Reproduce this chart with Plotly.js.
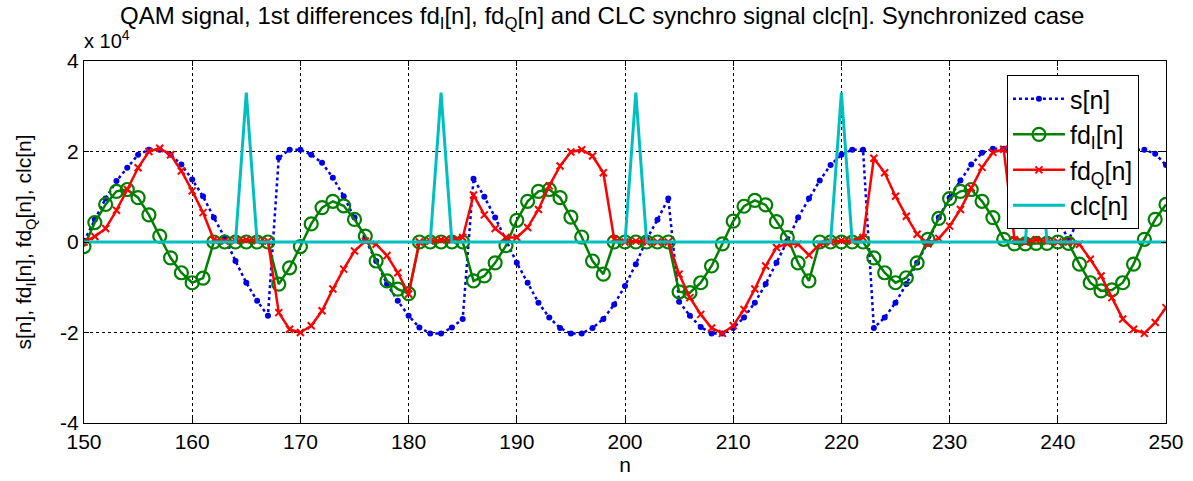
<!DOCTYPE html>
<html>
<head>
<meta charset="utf-8">
<script src="https://cdn.plot.ly/plotly-3.0.1.min.js"></script>
<style>
html,body{margin:0;padding:0;background:#fff;}
#chart{width:1193px;height:481px;}
</style>
</head>
<body>
<div id="chart"></div>
<script>
// sample index n
const n = [150,151,152,153,154,155,156,157,158,159,
           160,161,162,163,164,165,166,167,168,169,
           170,171,172,173,174,175,176,177,178,179,
           180,181,182,183,184,185,186,187,188,189,
           190,191,192,193,194,195,196,197,198,199,
           200,201,202,203,204,205,206,207,208,209,
           210,211,212,213,214,215,216,217,218,219,
           220,221,222,223,224,225,226,227,228,229,
           230,231,232,233,234,235,236,237,238,239,
           240,241,242,243,244,245,246,247,248,249,
           250];

// values in units of 10^4
const s = [0.02,0.5,0.96,1.35,1.64,1.93,2.04,2.04,1.93,1.71,
           1.38,1.01,0.54,0.1,-0.42,-0.9,-1.3,-1.63,1.86,2.04,
           2.04,1.93,1.75,1.42,1.01,0.54,0.05,-0.42,-0.93,-1.3,
           -1.63,-1.89,-2.02,-2.02,-1.89,-1.7,1.4,1.0,0.54,0.05,
           -0.46,-0.9,-1.34,-1.67,-1.9,-2.02,-2.02,-1.9,-1.7,-1.38,
           -0.97,-0.49,0.06,0.49,0.96,-1.32,-1.63,-1.88,-2.02,-2.02,
           -1.9,-1.67,-1.34,-0.93,-0.46,0.02,0.54,0.96,1.36,1.7,
           1.93,2.04,2.04,-1.9,-1.67,-1.34,-0.93,-0.46,0.0,0.54,
           0.98,1.36,1.71,1.97,2.06,2.06,1.93,1.7,1.36,0.96,
           0.5,0.05,0.53,0.96,1.36,1.7,1.93,2.04,2.04,1.95,
           1.7];

const fdI = [-0.1,0.43,0.83,1.12,1.16,0.98,0.6,0.13,-0.35,-0.68,
             -0.9,-0.8,0,0,0,0,0,0,-0.93,-0.57,
             -0.1,0.4,0.76,0.9,0.8,0.5,0.13,-0.42,-0.86,-1.04,
             -1.14,0,0,0,0,0,-0.86,-0.75,-0.46,-0.08,
             0.48,0.9,1.12,1.16,0.98,0.55,0.11,-0.42,-0.71,0,
             0,0,0,0,0,-1.1,-1.12,-0.9,-0.53,-0.04,
             0.46,0.79,0.92,0.82,0.45,0.1,-0.46,-0.86,0,0,
             0,0,0,-0.35,-0.68,-0.9,-0.79,-0.46,0.06,0.52,
             0.96,1.12,1.16,0.9,0.54,0.06,-0.04,-0.04,-0.03,-0.03,
             0,-0.03,-0.49,-0.9,-1.08,-1.06,-0.9,-0.49,0.06,0.5,
             0.83];

const fdQ = [0,0.12,0.3,0.7,1.16,1.64,2.0,2.07,1.93,1.57,
             1.13,0.65,0.05,0.02,0.03,0.05,0.03,0.02,-1.56,-1.93,
             -2.0,-1.85,-1.52,-1.04,-0.6,-0.2,0.02,-0.05,-0.3,-0.68,
             -1.15,0,0.02,0.05,0.05,0.1,1.04,0.6,0.3,0.1,
             0.1,0.32,0.72,1.24,1.68,1.99,2.04,1.9,1.53,0.06,
             0,0.02,0,0,0,-0.71,-1.23,-1.6,-1.9,-2.02,
             -1.85,-1.49,-1.04,-0.53,-0.12,-0.04,-0.05,-0.29,-0.05,0,
             0.03,0.02,0.1,1.85,1.53,1.01,0.57,0.17,-0.04,0.08,
             0.35,0.72,1.2,1.65,1.98,2.05,0.05,0,0.05,0.02,
             0,0,-0.05,-0.38,-0.75,-1.23,-1.7,-1.93,-2.02,-1.78,
             -1.45];

const clc = [0,0,0,0,0,0,0,0,0,0,
             0,0,0,0,0,3.3,0,0,0,0,
             0,0,0,0,0,0,0,0,0,0,
             0,0,0,3.3,0,0,0,0,0,0,
             0,0,0,0,0,0,0,0,0,0,
             0,3.3,0,0,0,0,0,0,0,0,
             0,0,0,0,0,0,0,0,0,0,
             3.3,0,0,0,0,0,0,0,0,0,
             0,0,0,0,0,0,0,0,3.3,0,
             0,0,0,0,0,0,0,0,0,0,
             0];

const xTicks = [150,160,170,180,190,200,210,220,230,240,250];
const xTickText = ['150','160','170','180','190','200','210','220','230','240','250'];
const yTicks = [-4,-2,0,2,4];
const yTickText = ['-4','-2','0','2','4'];

const names = ['s[n]','fd<sub>I</sub>[n]','fd<sub>Q</sub>[n]','clc[n]'];

const traces = [
  {x:n, y:s, name:names[0], type:'scatter', mode:'lines+markers', legendgroup:'a',
   line:{color:'rgb(0,0,230)', width:2.5, dash:'dot'},
   marker:{color:'rgb(0,0,230)', size:6, symbol:'circle'}},
  {x:n, y:fdI, name:names[1], type:'scatter', mode:'lines+markers', legendgroup:'b',
   line:{color:'rgb(0,128,0)', width:2.5},
   marker:{color:'rgb(0,128,0)', size:13, symbol:'circle-open', line:{width:2.2, color:'rgb(0,128,0)'}}},
  {x:n, y:fdQ, name:names[2], type:'scatter', mode:'lines+markers', legendgroup:'c',
   line:{color:'rgb(255,0,0)', width:2.5},
   marker:{color:'rgb(255,0,0)', size:7, symbol:'x-thin-open', line:{width:2, color:'rgb(255,0,0)'}}},
  {x:n, y:clc, name:names[3], type:'scatter', mode:'lines', legendgroup:'d',
   line:{color:'rgb(0,191,191)', width:3}}
];

const FAM = 'Liberation Sans, Arial, sans-serif';
const axFont = {family:FAM, size:21, color:'#000'};

const layout = {
  width:1193, height:481,
  margin:{l:84, r:27, t:61, b:58},
  paper_bgcolor:'#fff', plot_bgcolor:'#fff',
  font:axFont,
  showlegend:true,
  title:{text:'QAM signal, 1st differences fd<sub>I</sub>[n], fd<sub>Q</sub>[n] and CLC synchro signal clc[n]. Synchronized case',
         font:{family:FAM, size:24, color:'#000'},
         x:0.1006, xref:'container', xanchor:'left', y:0.967, yref:'container', yanchor:'middle'},
  xaxis:{range:[150,250], tickvals:xTicks, ticktext:xTickText,
         showgrid:true, gridcolor:'#000', griddash:'dot', gridwidth:1,
         zeroline:false, showline:true, linecolor:'#000', linewidth:1, mirror:'ticks',
         ticks:'inside', ticklen:5, tickcolor:'#000', tickfont:axFont,
         title:{text:'n', font:axFont, standoff:5}},
  yaxis:{range:[-4,4], tickvals:yTicks, ticktext:yTickText,
         showgrid:true, gridcolor:'#000', griddash:'dot', gridwidth:1,
         zeroline:false, showline:true, linecolor:'#000', linewidth:1, mirror:'ticks',
         ticks:'inside', ticklen:5, tickcolor:'#000', tickfont:axFont,
         title:{text:'s[n], fd<sub>I</sub>[n], fd<sub>Q</sub>[n], clc[n]', font:axFont, standoff:22}},
  legend:{x:0.853, y:0.961, xanchor:'left', yanchor:'top',
          bgcolor:'#fff', bordercolor:'#000', borderwidth:1,
          font:{family:FAM, size:25, color:'#000'},
          itemwidth:52, tracegroupgap:0},
  annotations:[{text:'x 10<sup>4</sup>', xref:'paper', yref:'paper', x:-0.002, y:1.02,
                xanchor:'left', yanchor:'bottom', showarrow:false,
                font:{family:FAM, size:20, color:'#000'}}]
};

Plotly.newPlot('chart', traces, layout, {displayModeBar:false, staticPlot:true});
</script>
</body>
</html>
